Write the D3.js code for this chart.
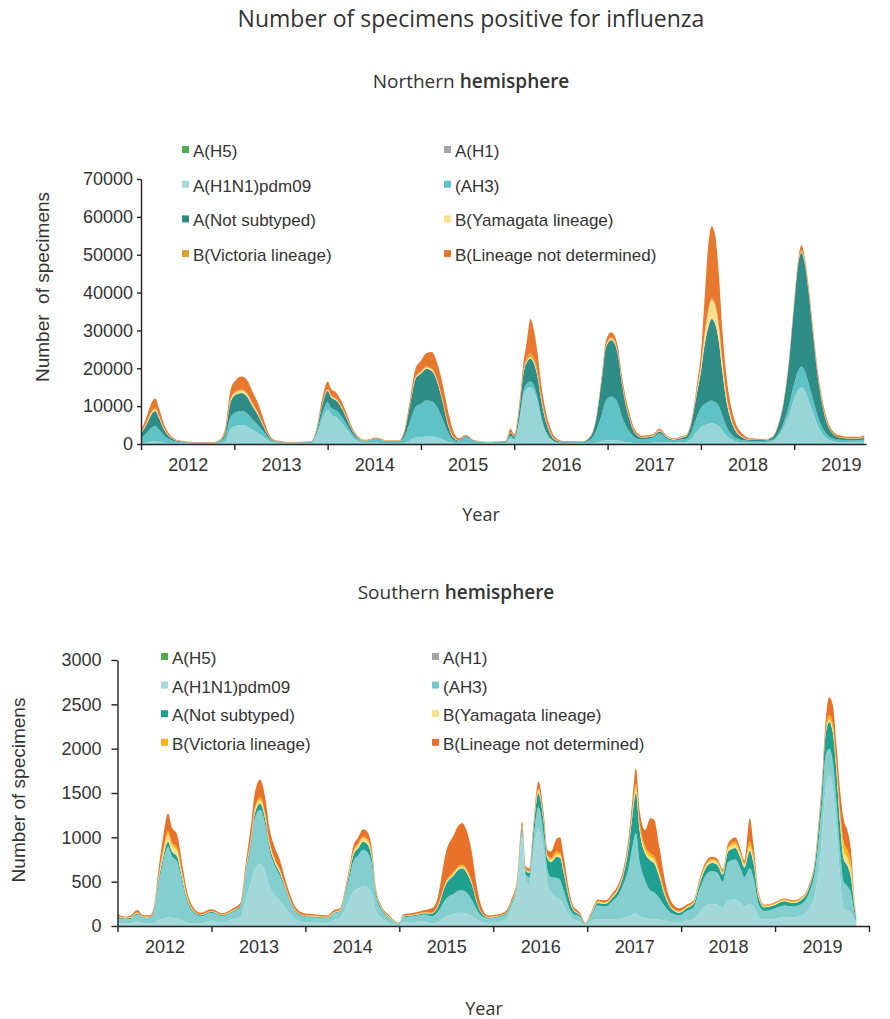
<!DOCTYPE html>
<html>
<head>
<meta charset="utf-8">
<script src="https://cdn.jsdelivr.net/npm/d3@7"></script>
<style>
  body { margin: 0; background: #fff; }
  svg text { font-family: "Liberation Sans", Arial, sans-serif; fill: #333; }
  svg text.ttl { font-family: "Open Sans", sans-serif; }
</style>
</head>
<body>
<svg id="chart" width="890" height="1019"></svg>
<script>
// ---- data (weeks counted from week 1 of 2012) ----
const seriesNames = ['A(H5)', 'A(H1)', 'A(H1N1)pdm09', '(AH3)', 'A(Not subtyped)',
  'B(Yamagata lineage)', 'B(Victoria lineage)', 'B(Lineage not determined)']
const yearLabels = ['2012', '2013', '2014', '2015', '2016', '2017', '2018', '2019']

// Northern hemisphere
const nhWeeks = [0, 3, 6, 8, 10, 13, 17, 22, 30, 40,
  44, 47, 50, 53, 56, 59, 62, 65, 68, 71, 75, 85, 95,
  98, 101, 104, 106, 109, 112, 115, 118, 121, 125, 131, 137, 144,
  147, 150, 153, 156, 159, 162, 165, 168, 171, 174, 177, 181, 186, 195, 203,
  206, 208, 211, 213, 215, 217, 219, 221, 223, 225, 228, 231, 236, 246,
  251, 254, 257, 259, 262, 264, 266, 268, 270, 272, 275, 279, 285, 289, 293, 297, 301,
  304, 307, 310, 312, 314, 316, 318, 320, 322, 324, 326, 328, 331, 335, 340, 347,
  352, 355, 358, 361, 364, 366, 368, 370, 372, 374, 377, 380, 384, 389, 395, 400, 403]
const nhH1N1pdm09 = [200, 400, 650, 700, 600, 350, 200, 100, 60, 60,
  200, 700, 4000, 4800, 5000, 4700, 3800, 3000, 2000, 900, 300, 100, 250,
  2500, 6500, 9000, 7800, 7000, 5500, 3600, 1800, 800, 350, 300, 150, 150,
  300, 1000, 1700, 1800, 2000, 2000, 1700, 1200, 600, 300, 200, 300, 150, 100, 200,
  1500, 1000, 6500, 12500, 14500, 15000, 14000, 11000, 6500, 3500, 1300, 400, 150, 100,
  200, 400, 700, 900, 1000, 1000, 900, 700, 500, 400, 250, 200, 300, 500, 400, 300, 500,
  600, 1500, 3500, 4500, 5000, 5300, 5500, 5300, 4800, 3500, 2300, 1500, 800, 400, 300, 300,
  800, 2000, 4200, 7500, 12000, 14000, 15000, 14000, 11500, 9000, 5000, 2500, 1000, 500, 400, 400, 500]
const nhH3 = [1300, 2400, 3700, 4000, 3200, 1800, 800, 400, 250, 250,
  500, 1500, 3200, 3600, 3700, 3400, 2700, 2100, 1400, 700, 300, 200, 250,
  600, 1500, 2000, 1800, 1800, 1600, 1200, 800, 500, 350, 900, 500, 500,
  1700, 5000, 8000, 8800, 9500, 9300, 8000, 5500, 2500, 800, 500, 1500, 500, 300, 350,
  600, 400, 700, 1200, 1400, 1500, 1400, 1200, 800, 500, 300, 200, 250, 350,
  1200, 3500, 7500, 10500, 11500, 11000, 9500, 6500, 4500, 3000, 1500, 1000, 1300, 2300, 1000, 600, 700,
  800, 2000, 4000, 5000, 5500, 5800, 6000, 5800, 5200, 4000, 2600, 1700, 900, 600, 500, 500,
  300, 600, 1300, 2500, 4000, 5000, 5500, 5200, 4500, 3600, 2500, 1500, 800, 600, 600, 600, 700]
const nhNotSubtyped = [1200, 2300, 3600, 4000, 3100, 1500, 500, 150, 60, 60,
  200, 1000, 4000, 4700, 4800, 4500, 3600, 2700, 1500, 500, 150, 80, 100,
  800, 2200, 3000, 2700, 2600, 2200, 1500, 700, 300, 150, 200, 150, 150,
  1400, 4500, 7500, 8000, 8300, 8000, 6800, 4500, 2000, 600, 250, 300, 150, 80, 100,
  800, 500, 2600, 4500, 5700, 6000, 5800, 5500, 4300, 3000, 1200, 400, 100, 100,
  900, 3600, 9800, 14000, 15000, 14500, 12500, 8700, 5600, 3500, 1300, 500, 400, 600, 400, 250, 400,
  700, 2700, 6500, 9500, 15500, 19500, 21500, 20500, 17000, 11500, 7000, 4300, 2000, 800, 300, 250,
  700, 2100, 5000, 11200, 20800, 27700, 30000, 28000, 24200, 18600, 10800, 5600, 1800, 600, 450, 450, 550]
const nhYamagata = [150, 300, 450, 500, 400, 200, 100, 50, 20, 20,
  50, 150, 500, 600, 600, 600, 500, 400, 250, 100, 40, 20, 30,
  50, 200, 300, 300, 300, 250, 200, 100, 50, 30, 50, 30, 30,
  50, 200, 300, 350, 400, 400, 400, 350, 300, 150, 50, 50, 30, 20, 20,
  100, 50, 200, 300, 400, 500, 500, 500, 400, 300, 150, 60, 20, 20,
  30, 100, 200, 300, 400, 400, 400, 350, 300, 250, 150, 100, 100, 150, 100, 100, 150,
  150, 300, 800, 1500, 2500, 4000, 5000, 4800, 4000, 2500, 1500, 900, 400, 150, 50, 50,
  30, 50, 80, 100, 200, 250, 300, 300, 300, 300, 300, 200, 100, 50, 50, 50, 50]
const nhVictoria = [100, 200, 350, 400, 300, 150, 50, 30, 20, 20,
  50, 100, 300, 300, 300, 300, 300, 200, 150, 100, 30, 20, 20,
  50, 100, 200, 200, 200, 150, 100, 100, 50, 30, 50, 30, 30,
  50, 150, 200, 250, 300, 300, 300, 250, 200, 100, 50, 50, 30, 20, 20,
  100, 50, 200, 500, 700, 1000, 1000, 900, 800, 600, 300, 100, 30, 30,
  30, 50, 100, 200, 300, 300, 300, 300, 250, 200, 100, 50, 50, 100, 50, 50, 50,
  50, 100, 200, 300, 400, 500, 500, 500, 500, 400, 300, 200, 100, 50, 50, 30,
  30, 50, 120, 200, 300, 400, 500, 500, 500, 500, 400, 300, 200, 100, 100, 100, 100]
const nhBNotDetermined = [550, 1400, 2250, 2400, 1900, 1000, 350, 170, 90, 90,
  200, 850, 2500, 3000, 3400, 3500, 3100, 2600, 1700, 700, 180, 80, 150,
  500, 1500, 2000, 1700, 1600, 1300, 900, 500, 300, 190, 200, 140, 140,
  500, 1150, 2300, 2800, 3500, 4300, 4300, 4200, 3400, 1550, 450, 200, 140, 80, 110,
  900, 500, 1300, 2000, 4300, 9000, 7300, 4900, 3200, 2100, 1250, 540, 150, 100,
  140, 350, 700, 1100, 1300, 1300, 1400, 1450, 1350, 1150, 700, 350, 350, 350, 250, 200, 200,
  200, 400, 1500, 3200, 9100, 16900, 19000, 18100, 13500, 8100, 5300, 3400, 1800, 800, 300, 170,
  140, 200, 300, 500, 700, 650, 1200, 1000, 1000, 1000, 1000, 900, 600, 450, 300, 300, 400]

// Southern hemisphere
const shWeeks = [0, 4, 7, 11, 14, 18, 20, 22, 25, 28, 30, 33, 36, 38, 42, 46, 52, 58, 64,
  68, 71, 74, 76, 79, 82, 84, 87, 90, 93, 96, 99, 104, 110, 116,
  120, 123, 127, 131, 133, 136, 138, 141, 143, 146, 150, 156, 158, 164, 170,
  174, 177, 182, 186, 189, 191, 193, 196, 199, 201, 205, 210, 215,
  218, 221, 224, 226, 228, 230, 233, 236, 238, 240, 243, 245, 247, 250, 252, 256, 259, 262,
  266, 270, 274, 277, 280, 283, 285, 287, 289, 292, 295, 297, 300, 303, 307, 311,
  315, 319, 322, 325, 329, 332, 335, 338, 342, 345, 347, 350, 352, 355, 358,
  363, 369, 374, 380, 383, 386, 388, 390, 392, 394, 396, 398, 400, 402, 404, 406, 408, 409]
const shH1N1pdm09 = [40, 30, 30, 50, 35, 30, 40, 60, 80, 100, 90, 85, 60, 40, 30, 30, 60, 40, 80,
  100, 300, 500, 650, 700, 600, 450, 350, 280, 200, 120, 70, 40, 40, 35,
  70, 90, 230, 400, 420, 450, 440, 350, 180, 90, 40, 10, 40, 45, 50,
  30, 40, 110, 130, 150, 150, 140, 110, 70, 50, 35, 40, 80,
  200, 380, 1000, 520, 470, 780, 1100, 820, 480, 380, 320, 300, 230, 120, 80, 50, 10, 50,
  80, 70, 80, 80, 90, 110, 130, 150, 110, 90, 80, 80, 70, 60, 40, 40,
  60, 80, 150, 220, 250, 240, 200, 290, 300, 260, 220, 250, 220, 100, 70,
  80, 100, 100, 130, 200, 350, 600, 1000, 1550, 1700, 1550, 1100, 550, 200, 180, 150, 60, 20]
const shH3 = [60, 45, 50, 80, 55, 55, 110, 340, 620, 790, 700, 640, 420, 270, 120, 80, 90, 70, 80,
  110, 290, 420, 560, 610, 520, 420, 330, 280, 200, 130, 80, 60, 55, 50,
  70, 70, 200, 350, 370, 410, 400, 320, 165, 90, 55, 15, 55, 65, 80,
  80, 110, 200, 230, 250, 250, 240, 190, 110, 70, 50, 55, 50,
  40, 50, 70, 60, 80, 150, 240, 200, 150, 170, 220, 220, 170, 90, 60, 50, 10, 60,
  150, 150, 200, 260, 380, 550, 760, 900, 620, 430, 320, 300, 240, 160, 100, 80,
  110, 130, 250, 330, 370, 360, 300, 430, 450, 380, 330, 400, 330, 140, 100,
  110, 130, 120, 140, 180, 250, 340, 380, 380, 300, 300, 300, 300, 300, 270, 220, 80, 30]
const shNotSubtyped = [10, 10, 10, 15, 10, 10, 15, 30, 50, 60, 55, 55, 40, 30, 15, 10, 10, 10, 10,
  15, 30, 50, 60, 70, 60, 50, 40, 35, 25, 15, 10, 10, 10, 10,
  10, 10, 35, 70, 80, 90, 90, 70, 40, 20, 10, 5, 10, 10, 15,
  30, 50, 170, 210, 240, 250, 230, 180, 80, 40, 10, 10, 10,
  20, 25, 40, 40, 50, 90, 160, 140, 130, 170, 240, 250, 200, 100, 50, 20, 5, 15,
  30, 30, 40, 60, 100, 230, 350, 450, 350, 300, 340, 330, 240, 120, 50, 30,
  30, 40, 60, 80, 90, 90, 80, 120, 130, 120, 110, 200, 170, 70, 40,
  40, 50, 40, 50, 60, 90, 130, 180, 230, 300, 330, 330, 300, 250, 230, 180, 70, 20]
const shYamagata = [5, 5, 5, 5, 5, 5, 5, 20, 50, 80, 70, 65, 40, 25, 10, 5, 5, 5, 5,
  5, 15, 30, 35, 40, 35, 30, 25, 20, 15, 10, 5, 5, 5, 5,
  5, 5, 15, 30, 35, 40, 40, 35, 15, 10, 5, 2, 5, 5, 5,
  5, 10, 15, 20, 20, 20, 20, 15, 10, 5, 5, 5, 5,
  5, 5, 10, 10, 10, 20, 30, 25, 25, 25, 30, 30, 25, 15, 10, 5, 2, 5,
  10, 10, 10, 15, 20, 30, 40, 50, 45, 40, 40, 40, 30, 20, 10, 10,
  10, 10, 20, 25, 30, 30, 25, 35, 40, 35, 30, 50, 40, 20, 10,
  10, 10, 10, 10, 10, 15, 20, 20, 25, 30, 40, 50, 80, 100, 90, 80, 30, 10]
const shVictoria = [5, 5, 5, 5, 5, 5, 5, 15, 30, 40, 35, 35, 20, 15, 5, 5, 5, 5, 5,
  5, 10, 20, 25, 30, 25, 20, 15, 15, 10, 5, 5, 5, 5, 5,
  5, 5, 10, 20, 20, 20, 20, 15, 10, 5, 5, 2, 5, 5, 5,
  5, 10, 15, 20, 20, 20, 20, 15, 10, 5, 5, 5, 5,
  5, 5, 10, 10, 10, 10, 20, 20, 15, 20, 30, 30, 25, 15, 10, 5, 2, 5,
  10, 10, 10, 10, 10, 20, 30, 50, 45, 40, 40, 40, 30, 20, 10, 10,
  10, 10, 10, 15, 15, 15, 15, 20, 30, 25, 20, 50, 40, 15, 10,
  10, 10, 10, 10, 10, 10, 20, 20, 35, 50, 60, 60, 80, 100, 90, 80, 30, 10]
const shBNotDetermined = [20, 10, 15, 25, 15, 15, 25, 55, 140, 200, 170, 150, 100, 60, 30, 20, 20, 15, 20,
  25, 65, 140, 170, 200, 180, 150, 130, 110, 70, 50, 30, 20, 15, 15,
  20, 20, 30, 60, 65, 80, 80, 60, 30, 15, 15, 6, 15, 20, 25,
  50, 80, 340, 410, 460, 470, 440, 340, 160, 80, 15, 15, 20,
  30, 35, 45, 30, 30, 50, 80, 65, 60, 75, 140, 170, 130, 60, 30, 20, 6, 15,
  20, 20, 30, 35, 40, 70, 110, 180, 140, 180, 395, 410, 280, 140, 50, 30,
  20, 20, 30, 30, 25, 25, 20, 35, 50, 40, 30, 265, 130, 25, 10,
  10, 10, 10, 10, 20, 25, 50, 50, 100, 200, 210, 200, 220, 250, 220, 150, 30, 10]

const svg = d3.select('#chart')

/**
 * 绘制一个半球的堆叠面积图
 * @param {object} opt 面板配置
 */
function drawPanel(opt) {
  const { weeks, values, colors, legendColors } = opt
  const g = svg.append('g')
  const x = d3.scaleLinear().domain([0, opt.weekMax]).range([opt.left, opt.right])
  const y = d3.scaleLinear().domain([0, opt.yMax]).range([opt.bottom, opt.top])

  // rows for d3.stack (A(H5) and A(H1) had no positives, legend only)
  const keys = d3.range(values.length)
  const rows = weeks.map((w, i) => {
    const r = { week: w }
    keys.forEach(k => { r[k] = values[k][i] })
    return r
  })
  const layers = d3.stack().keys(keys)(rows)
  const area = d3.area()
    .x(d => x(d.data.week))
    .y0(d => y(d[0]))
    .y1(d => y(d[1]))
    .curve(d3.curveMonotoneX)
  g.append('g').selectAll('path')
    .data(layers)
    .join('path')
    .attr('fill', (d, i) => colors[i])
    .attr('d', area)

  // y axis
  const yAxis = g.append('g')
    .attr('transform', `translate(${opt.left},0)`)
    .call(d3.axisLeft(y)
      .tickValues(d3.range(0, opt.yMax + 1, opt.yStep))
      .tickFormat(d3.format('d'))
      .tickSize(opt.yTick).tickPadding(opt.yPad).tickSizeOuter(0))
  // x axis: year boundaries
  const xAxis = g.append('g')
    .attr('transform', `translate(0,${opt.bottom})`)
    .call(d3.axisBottom(x)
      .tickValues(d3.range(0, opt.weekMax + 1, 52))
      .tickFormat('').tickSize(6).tickSizeOuter(0))
  // year labels in the middle of each year
  const labelAxis = g.append('g')
    .attr('transform', `translate(0,${opt.bottom})`)
    .call(d3.axisBottom(x)
      .tickValues(yearLabels.map((d, i) => 26 + i * 52))
      .tickFormat((d, i) => yearLabels[i])
      .tickSize(0).tickPadding(opt.xPad))
  labelAxis.select('.domain').remove()
  ;[yAxis, xAxis].forEach(a => {
    a.selectAll('.domain, line').attr('stroke', '#222').attr('stroke-width', 1.4)
  })
  g.selectAll('.tick text').attr('font-size', 18).attr('fill', '#333')

  // legend
  const lg = g.append('g')
  seriesNames.forEach((name, i) => {
    const lx = i % 2 ? opt.legendX2 : opt.legendX1
    const ly = opt.legendY + Math.floor(i / 2) * opt.legendDy
    lg.append('rect').attr('x', lx).attr('y', ly - 11).attr('width', 7).attr('height', 7)
      .attr('fill', legendColors[i])
    lg.append('text').attr('x', lx + 11).attr('y', ly).attr('font-size', 17).text(name)
  })

  // titles
  const sub = g.append('text').attr('class', 'ttl').attr('x', opt.subX).attr('y', opt.subY)
    .attr('text-anchor', 'middle').attr('font-size', 19)
  sub.append('tspan').text(opt.subtitle + ' ')
  sub.append('tspan').attr('font-weight', 600).text('hemisphere')

  g.append('text')
    .attr('transform', `translate(${opt.yTitleX},${opt.yTitleY}) rotate(-90)`)
    .attr('text-anchor', 'middle').attr('font-size', 19)
    .style('white-space', 'pre')
    .text(opt.yTitle)

  g.append('text').attr('class', 'ttl').attr('x', opt.xTitleX).attr('y', opt.xTitleY)
    .attr('text-anchor', 'middle').attr('font-size', 18).text('Year')
}

svg.append('text').attr('class', 'ttl')
  .attr('x', 471).attr('y', 27).attr('text-anchor', 'middle').attr('font-size', 23)
  .text('Number of specimens positive for influenza')

drawPanel({
  weeks: nhWeeks,
  values: [nhH1N1pdm09, nhH3, nhNotSubtyped, nhYamagata, nhVictoria, nhBNotDetermined],
  colors: ['#98d5d6', '#5fc3c6', '#2f8d88', '#f9e08e', '#e3a12f', '#e9782f'],
  legendColors: ['#4cae4c', '#a6a6a6', '#a6dadb', '#5fc3c6', '#2f8a85', '#fbe08c', '#e0a030', '#e8772d'],
  weekMax: 404, left: 141, right: 866,
  yMax: 70000, yStep: 10000, top: 179, bottom: 444,
  yTick: 4, yPad: 4, xPad: 14,
  legendX1: 182, legendX2: 444, legendY: 157, legendDy: 34.7,
  subtitle: 'Northern', subX: 471, subY: 88,
  yTitle: 'Number  of specimens', yTitleX: 49, yTitleY: 287,
  xTitleX: 481, xTitleY: 521
})

drawPanel({
  weeks: shWeeks,
  values: [shH1N1pdm09, shH3, shNotSubtyped, shYamagata, shVictoria, shBNotDetermined],
  colors: ['#a2d8d9', '#84cecf', '#20a090', '#fbe08a', '#f6b60c', '#e8722a'],
  legendColors: ['#4cae4c', '#a6a6a6', '#a6dadb', '#72c9cb', '#1f9e8e', '#fbe08a', '#f6b60c', '#e8722a'],
  weekMax: 416, left: 117.5, right: 869,
  yMax: 3000, yStep: 500, top: 660, bottom: 926,
  yTick: 6, yPad: 10, xPad: 14,
  legendX1: 161, legendX2: 432, legendY: 664, legendDy: 28.6,
  subtitle: 'Southern', subX: 456, subY: 599,
  yTitle: 'Number of specimens', yTitleX: 25, yTitleY: 790,
  xTitleX: 484, xTitleY: 1015
})
</script>
</body>
</html>
